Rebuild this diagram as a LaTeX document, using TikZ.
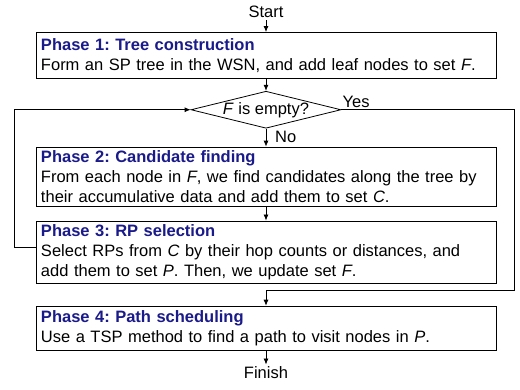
\documentclass[tikz,border=0pt]{standalone}
\usepackage{xcolor}
\usepackage{fontspec}
\setmainfont{Liberation Sans}
\usepackage{tikz}
\usetikzlibrary{positioning, arrows.meta, shapes.geometric}
\definecolor{phaseblue}{RGB}{26,26,138}
\frenchspacing
\tikzset{
  phasebox/.style={draw, line width=0.8pt, text width=450pt, inner xsep=5pt, inner ysep=3.5pt, align=left, font=\fontsize{16.5}{20}\selectfont},
  termtext/.style={inner sep=2pt, font=\fontsize{16.5}{18}\selectfont},
  decision/.style={draw, diamond, line width=0.8pt, aspect=4, inner sep=0pt, minimum width=150pt, minimum height=37pt, font=\fontsize{16.5}{18}\selectfont},
  flowlabel/.style={inner sep=0pt, font=\fontsize{16.5}{18}\selectfont},
  flow/.style={-{Latex[length=6pt,width=5pt]}, line width=0.8pt},
}
\newcommand{\phasehead}[1]{\textcolor{phaseblue}{\textbf{#1}}}

\begin{document}
\begin{tikzpicture}
                      [x=1pt, y=1pt, node distance=12pt]
                      \useasboundingbox (0,0) rectangle (520,-389);
                      % nodes %
                      \node[termtext] (start) at (266,-12) {Start};
                      \node[phasebox, minimum height=46pt, below=12pt of start] (p1) {\phasehead{Phase 1: Tree construction}\\
                        Form an SP tree in the WSN, and add leaf nodes to set \textit{F}.};
                      \node[decision, below=12pt of p1] (dec) {\textit{F} is empty?};
                      \node[phasebox, below=18pt of dec] (p2) {\phasehead{Phase 2: Candidate finding}\\
                        From each node in \textit{F}, we find candidates along the tree by\\
                        their accumulative data and add them to set \textit{C}.};
                      \node[phasebox, below=14pt of p2] (p3) {\phasehead{Phase 3: RP selection}\\
                        Select RPs from \textit{C} by their hop counts or distances, and\\
                        add them to set \textit{P}. Then, we update set \textit{F}.};
                      \node[phasebox, minimum height=44pt, below=22pt of p3] (p4) {\phasehead{Phase 4: Path scheduling}\\
                        Use a TSP method to find a path to visit nodes in \textit{P}.};
                      \node[termtext, below=14pt of p4] (finish) {Finish};
                      \node[flowlabel, anchor=base west] (yes) at ([shift={(1pt,2pt)}]dec.east) {Yes};
                      \node[flowlabel, anchor=base west] (no) at ([shift={(9pt,-13.5pt)}]dec.south) {No};
                      \coordinate (leftrail) at ([xshift=-21pt]p2.west);
                      \coordinate (rightrail) at ([xshift=18pt]p1.east);
                      \coordinate (joint) at ([yshift=15pt]p4.north);

                      % edges %
                      \draw[flow] (start) -- (p1);
                      \draw[flow] (p1) -- (dec);
                      \draw[flow] (dec) -- (p2);
                      \draw[flow] (p2) -- (p3);
                      \draw[flow] ([yshift=5pt]p3.west) -| (leftrail |- dec.west) -- (dec.west);
                      \draw[flow] (dec.east) -- (dec.east -| rightrail) |- (joint) -- (p4.north);
                      \draw[flow] (p4) -- (finish);
                    \end{tikzpicture}
\end{document}
